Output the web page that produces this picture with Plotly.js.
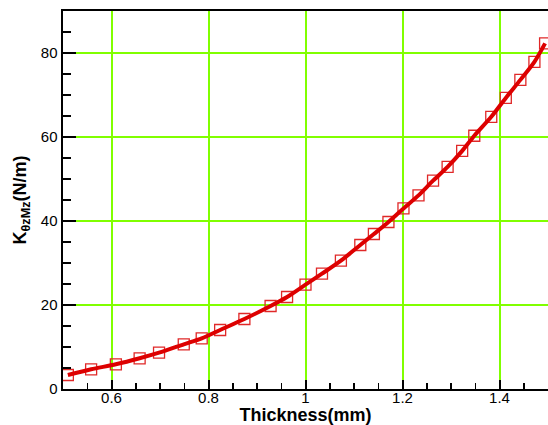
<!DOCTYPE html>
<html>
<head>
<meta charset="utf-8">
<script src="https://cdn.plot.ly/plotly-3.0.1.min.js"></script>
<style>
  html, body { margin: 0; padding: 0; background: #fff; }
  #chart { width: 548px; height: 425px; }
</style>
</head>
<body>
<div id="chart"></div>
<script>
// Stiffness K_θzMz versus sheet thickness
var thickness = [0.51, 0.558, 0.609, 0.658, 0.698, 0.749, 0.786, 0.824, 0.874, 0.928,
                 0.962, 1.0, 1.034, 1.073, 1.113, 1.141, 1.171, 1.202, 1.233, 1.263,
                 1.293, 1.323, 1.348, 1.383, 1.413, 1.443, 1.472, 1.494];
var stiffness = [3.33, 4.69, 5.88, 7.31, 8.64, 10.64, 12.07, 14.05, 16.67, 19.76,
                 21.9, 24.83, 27.45, 30.55, 34.29, 36.9, 39.76, 43.0, 46.1, 49.6,
                 52.9, 56.7, 60.3, 64.8, 69.3, 73.6, 77.9, 82.3];

var xTickVals = [0.6, 0.8, 1, 1.2, 1.4];
var xTickText = ['0.6', '0.8', '1', '1.2', '1.4'];
var xMinorVals = [0.5, 0.55, 0.65, 0.7, 0.75, 0.85, 0.9, 0.95, 1.05, 1.1, 1.15,
                  1.25, 1.3, 1.35, 1.45, 1.5];
var yTickVals = [0, 20, 40, 60, 80];
var yTickText = ['0', '20', '40', '60', '80'];
var yMinorVals = [5, 10, 15, 25, 30, 35, 45, 50, 55, 65, 70, 75, 85];

var markers = {
  x: thickness,
  y: stiffness,
  type: 'scatter',
  mode: 'markers',
  marker: {
    symbol: 'square-open',
    size: 11,
    color: '#e02828',
    line: { width: 1.3, color: '#e02828' }
  },
  hoverinfo: 'x+y'
};

var curve = {
  x: thickness,
  y: stiffness,
  type: 'scatter',
  mode: 'lines',
  line: { color: '#dd0000', width: 4, shape: 'spline', smoothing: 0.8 },
  hoverinfo: 'skip'
};

var gridGreen = '#80ff00';

var layout = {
  width: 548,
  height: 425,
  margin: { l: 63, r: 0, t: 11, b: 36 },
  paper_bgcolor: '#ffffff',
  plot_bgcolor: '#ffffff',
  showlegend: false,
  font: { family: 'Liberation Sans, Arial, sans-serif', color: '#000' },
  xaxis: {
    range: [0.5, 1.5],
    tickmode: 'array',
    tickvals: xTickVals,
    ticktext: xTickText,
    ticks: 'inside',
    ticklen: 9,
    tickwidth: 2,
    tickcolor: '#000',
    tickfont: { size: 15, color: '#000' },
    ticklabelstandoff: -6,
    showline: true,
    linecolor: '#000',
    linewidth: 2,
    mirror: true,
    showgrid: true,
    gridcolor: gridGreen,
    gridwidth: 2,
    zeroline: false,
    minor: { tickmode: 'array', tickvals: xMinorVals, ticks: 'inside', ticklen: 6, tickwidth: 1.5, tickcolor: '#000', showgrid: false },
    title: {
      text: '<b>Thickness(mm)</b>',
      font: { size: 18, color: '#000' },
      standoff: 6
    },
    automargin: false
  },
  yaxis: {
    range: [0, 90],
    tickmode: 'array',
    tickvals: yTickVals,
    ticktext: yTickText,
    ticks: 'inside',
    ticklen: 13,
    tickwidth: 2,
    tickcolor: '#000',
    tickfont: { size: 15, color: '#000' },
    showline: true,
    linecolor: '#000',
    linewidth: 2.5,
    showgrid: true,
    gridcolor: gridGreen,
    gridwidth: 1.2,
    zeroline: false,
    minor: { tickmode: 'array', tickvals: yMinorVals, ticks: 'inside', ticklen: 8, tickwidth: 1.5, tickcolor: '#000', showgrid: false },
    title: {
      text: '<b>K<sub>θzMz</sub>(N/m)</b>',
      font: { size: 18, color: '#000' },
      standoff: 10
    },
    automargin: false
  }
};

Plotly.newPlot('chart', [markers, curve], layout, { staticPlot: true, displayModeBar: false });
</script>
</body>
</html>
